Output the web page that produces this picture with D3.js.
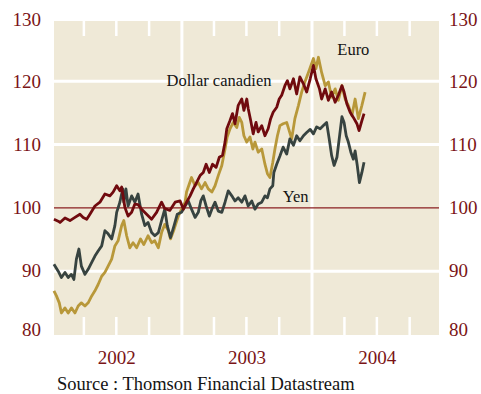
<!DOCTYPE html>
<html>
<head>
<meta charset="utf-8">
<script src="https://cdn.jsdelivr.net/npm/d3@7/dist/d3.min.js"></script>
<style>
  html, body { margin: 0; padding: 0; background: #ffffff; }
  svg { display: block; }
  text { font-family: "Liberation Serif", "Times New Roman", serif; }
</style>
</head>
<body>
<svg id="chart" width="481" height="394"></svg>
<script>
// Exchange rates against the US dollar, index base 100
const cadData = [
  ["2002-01-07",98.2],["2002-01-19",97.9],["2002-01-24",97.7],["2002-02-07",98.4],["2002-02-21",98.0],["2002-03-07",98.5],
  ["2002-03-21",99.0],["2002-03-30",98.5],["2002-04-09",98.2],["2002-04-18",99.0],["2002-05-02",100.3],["2002-05-16",100.9],
  ["2002-05-30",102.2],["2002-06-13",101.9],["2002-06-22",102.5],["2002-07-02",103.5],["2002-07-11",102.7],["2002-07-16",103.3],
  ["2002-07-25",100.1],["2002-08-03",98.7],["2002-08-13",99.3],["2002-08-22",100.6],["2002-08-31",100.5],["2002-09-10",99.8],
  ["2002-09-24",99.0],["2002-10-08",98.2],["2002-10-22",99.3],["2002-11-05",100.9],["2002-11-14",99.9],["2002-11-28",99.6],
  ["2002-12-13",100.9],["2002-12-27",101.1],["2003-01-05",99.8],["2003-01-14",100.9],["2003-01-24",101.9],["2003-02-02",103.0],
  ["2003-02-11",104.0],["2003-02-21",105.1],["2003-03-02",105.6],["2003-03-10",106.9],["2003-03-19",105.6],["2003-03-28",106.9],
  ["2003-04-07",106.4],["2003-04-16",108.0],["2003-04-25",108.3],["2003-05-02",110.4],["2003-05-07",112.5],["2003-05-16",113.8],
  ["2003-05-23",114.9],["2003-05-30",113.3],["2003-06-08",116.2],["2003-06-18",117.2],["2003-06-24",115.4],["2003-07-02",117.2],
  ["2003-07-06",115.7],["2003-07-13",113.8],["2003-07-20",111.7],["2003-07-28",113.5],["2003-08-03",112.0],["2003-08-13",113.0],
  ["2003-08-22",111.4],["2003-08-31",112.5],["2003-09-07",114.1],["2003-09-14",115.1],["2003-09-24",115.9],["2003-10-01",117.2],
  ["2003-10-08",117.8],["2003-10-17",119.3],["2003-10-24",120.1],["2003-10-31",118.8],["2003-11-10",120.4],["2003-11-19",118.0],
  ["2003-11-28",120.7],["2003-12-08",119.6],["2003-12-17",118.3],["2003-12-27",120.4],["2004-01-05",122.5],["2004-01-12",120.4],
  ["2004-01-22",118.8],["2004-01-28",117.2],["2004-02-07",118.8],["2004-02-16",117.0],["2004-02-25",118.3],["2004-03-06",116.7],
  ["2004-03-15",117.8],["2004-03-25",119.3],["2004-03-31",118.3],["2004-04-08",116.4],["2004-04-17",115.1],["2004-04-26",114.3],
  ["2004-05-06",113.3],["2004-05-12",112.2],["2004-05-20",113.8],["2004-05-26",114.9]
];

const euroData = [
  ["2002-01-07",86.9],["2002-01-14",86.1],["2002-01-22",85.0],["2002-01-28",83.4],["2002-02-07",84.2],["2002-02-16",83.4],
  ["2002-02-25",84.2],["2002-03-07",83.4],["2002-03-16",84.5],["2002-03-25",85.0],["2002-04-04",84.5],["2002-04-13",85.0],
  ["2002-04-23",86.1],["2002-05-02",86.9],["2002-05-11",87.9],["2002-05-21",89.2],["2002-05-30",89.8],["2002-06-08",90.8],
  ["2002-06-18",91.9],["2002-06-27",94.0],["2002-07-06",94.8],["2002-07-16",97.2],["2002-07-22",98.0],["2002-07-30",95.6],
  ["2002-08-08",93.7],["2002-08-17",94.5],["2002-08-27",93.7],["2002-09-07",95.1],["2002-09-16",94.2],["2002-09-28",95.6],
  ["2002-10-08",94.5],["2002-10-17",94.8],["2002-10-27",93.7],["2002-11-05",96.1],["2002-11-14",97.4],["2002-11-24",96.4],
  ["2002-11-30",95.1],["2002-12-10",96.6],["2002-12-22",98.7],["2002-12-31",99.8],["2003-01-10",100.9],["2003-01-14",102.5],
  ["2003-01-28",104.8],["2003-02-07",103.5],["2003-02-16",104.0],["2003-02-25",103.0],["2003-03-07",104.0],["2003-03-16",103.0],
  ["2003-03-26",102.5],["2003-04-04",103.5],["2003-04-13",105.1],["2003-04-23",106.7],["2003-05-02",109.3],["2003-05-08",111.2],
  ["2003-05-16",112.5],["2003-05-25",113.5],["2003-06-04",112.7],["2003-06-11",114.3],["2003-06-18",113.5],["2003-06-24",111.4],
  ["2003-07-02",110.4],["2003-07-11",111.2],["2003-07-19",109.3],["2003-07-25",110.4],["2003-08-03",108.8],["2003-08-13",109.3],
  ["2003-08-22",106.9],["2003-08-29",105.4],["2003-09-05",104.8],["2003-09-13",107.2],["2003-09-19",109.3],["2003-09-26",111.4],
  ["2003-10-03",113.0],["2003-10-12",113.3],["2003-10-22",113.5],["2003-11-05",110.9],["2003-11-14",114.1],["2003-11-24",116.2],
  ["2003-12-03",118.3],["2003-12-12",119.9],["2003-12-22",121.4],["2004-01-05",123.6],["2004-01-12",122.0],["2004-01-19",123.8],
  ["2004-01-28",121.4],["2004-02-07",119.3],["2004-02-16",119.9],["2004-02-25",117.5],["2004-03-06",118.8],["2004-03-15",117.0],
  ["2004-03-25",119.3],["2004-04-03",117.2],["2004-04-12",116.2],["2004-04-22",114.6],["2004-05-01",117.2],["2004-05-10",114.1],
  ["2004-05-20",116.2],["2004-05-29",118.3]
];

const yenData = [
  ["2002-01-07",91.1],["2002-01-19",90.0],["2002-01-28",89.0],["2002-02-07",89.8],["2002-02-16",89.0],["2002-02-25",89.5],
  ["2002-03-04",88.7],["2002-03-11",91.9],["2002-03-18",93.5],["2002-03-25",90.8],["2002-04-04",89.5],["2002-04-13",90.3],
  ["2002-04-23",91.4],["2002-05-02",92.4],["2002-05-11",93.2],["2002-05-21",94.0],["2002-05-30",96.4],["2002-06-08",95.9],
  ["2002-06-18",95.1],["2002-06-27",97.2],["2002-07-02",99.3],["2002-07-11",100.9],["2002-07-19",103.0],["2002-07-22",100.9],
  ["2002-07-28",103.0],["2002-08-03",100.3],["2002-08-13",101.9],["2002-08-22",100.9],["2002-08-31",102.2],["2002-09-10",99.0],
  ["2002-09-19",97.2],["2002-09-28",97.7],["2002-10-08",96.1],["2002-10-17",95.6],["2002-10-27",96.1],["2002-11-05",98.0],
  ["2002-11-14",99.8],["2002-11-21",97.2],["2002-11-30",95.3],["2002-12-10",97.2],["2002-12-19",99.0],["2002-12-31",99.3],
  ["2003-01-10",100.3],["2003-01-19",101.1],["2003-01-28",99.8],["2003-02-07",98.5],["2003-02-16",99.3],["2003-02-23",101.1],
  ["2003-03-02",101.9],["2003-03-10",100.3],["2003-03-19",98.7],["2003-03-26",99.8],["2003-04-04",100.9],["2003-04-13",99.5],
  ["2003-04-23",99.3],["2003-05-02",100.9],["2003-05-11",102.7],["2003-05-21",101.9],["2003-05-30",101.1],["2003-06-08",101.6],
  ["2003-06-18",100.9],["2003-06-27",101.9],["2003-07-06",100.3],["2003-07-16",101.1],["2003-07-25",99.8],["2003-08-03",100.6],
  ["2003-08-13",100.9],["2003-08-22",101.9],["2003-08-29",101.6],["2003-09-05",103.0],["2003-09-13",103.5],["2003-09-16",105.6],
  ["2003-09-24",106.9],["2003-10-03",108.2],["2003-10-12",109.6],["2003-10-22",108.5],["2003-10-31",110.9],["2003-11-10",109.9],
  ["2003-11-19",111.4],["2003-11-28",110.6],["2003-12-08",111.4],["2003-12-17",111.9],["2003-12-27",112.4],["2004-01-05",111.7],
  ["2004-01-14",112.8],["2004-01-24",112.5],["2004-02-02",113.0],["2004-02-11",113.5],["2004-02-18",111.0],["2004-02-25",108.3],
  ["2004-03-03",106.7],["2004-03-11",108.0],["2004-03-18",111.2],["2004-03-25",114.4],["2004-03-31",113.5],["2004-04-06",111.4],
  ["2004-04-12",110.4],["2004-04-19",108.8],["2004-04-26",107.7],["2004-05-01",109.0],["2004-05-07",106.7],["2004-05-13",104.0],
  ["2004-05-20",105.6],["2004-05-26",107.2]
];

const yTicks = [80, 90, 100, 110, 120, 130];
const gridValues = [90, 110, 120];
const baseValue = 100;
const yearLabels = ["2002", "2003", "2004"];
// name placement given in chart coordinates (date, index level of the baseline)
const seriesLabels = [
  { name: "Dollar canadien", date: "2002-11-19", value: 119.3 },
  { name: "Euro", date: "2004-03-12", value: 124.15 },
  { name: "Yen", date: "2003-10-11", value: 101.0 }
];
const sourceText = "Source : Thomson Financial Datastream";

const parse = d3.utcParse("%Y-%m-%d");
const svg = d3.select("#chart");

const plot = { left: 54, right: 439, top: 21, bottom: 335 };

const x = d3.scaleUtc()
  .domain([parse("2002-01-01"), parse("2004-01-01")])
  .range([51.8, 312]);
const y = d3.scaleLinear().domain([80, 130]).range([334.5, 18]);

const labelRed = "#7a1416";

// background panel
svg.append("rect")
  .attr("x", plot.left).attr("y", plot.top)
  .attr("width", plot.right - plot.left).attr("height", plot.bottom - plot.top)
  .attr("fill", "#efe9d7");

// white horizontal grid
svg.append("g").selectAll("line").data(gridValues).join("line")
  .attr("x1", plot.left).attr("x2", plot.right)
  .attr("y1", d => y(d)).attr("y2", d => y(d))
  .attr("stroke", "#ffffff").attr("stroke-width", 3);

// year boundaries
const yearStarts = d3.utcYear.range(parse("2003-01-01"), parse("2005-01-01"))
  .filter(d => x(d) > plot.left && x(d) < plot.right);
svg.append("g").selectAll("line").data(yearStarts).join("line")
  .attr("x1", d => x(d)).attr("x2", d => x(d))
  .attr("y1", plot.top).attr("y2", plot.bottom)
  .attr("stroke", "#ffffff").attr("stroke-width", 3);

// quarter ticks along top and bottom edges
const quarters = d3.utcMonth.every(3).range(parse("2002-01-01"), parse("2005-01-01"))
  .filter(d => d.getUTCMonth() !== 0 && x(d) < plot.right);
const tickG = svg.append("g").attr("stroke", "#ffffff").attr("stroke-width", 2.5);
tickG.selectAll(".qt").data(quarters).join("line")
  .attr("x1", d => x(d)).attr("x2", d => x(d))
  .attr("y1", plot.top).attr("y2", plot.top + 15);
tickG.selectAll(".qb").data(quarters).join("line")
  .attr("x1", d => x(d)).attr("x2", d => x(d))
  .attr("y1", plot.bottom - 18).attr("y2", plot.bottom);

// reference line at 100
svg.append("line")
  .attr("x1", plot.left).attr("x2", plot.right)
  .attr("y1", y(baseValue)).attr("y2", y(baseValue))
  .attr("stroke", "#8a1e20").attr("stroke-width", 1.2);

// series
const line = d3.line()
  .x(d => x(parse(d[0])))
  .y(d => y(d[1]));

const series = [
  { data: euroData, color: "#b8983a" },
  { data: yenData, color: "#374340" },
  { data: cadData, color: "#700a0e" }
];
svg.append("g").selectAll("path").data(series).join("path")
  .attr("d", d => line(d.data))
  .attr("fill", "none")
  .attr("stroke", d => d.color)
  .attr("stroke-width", 2.8)
  .attr("stroke-linejoin", "round");

// y axis labels, both sides
const labelY = v => Math.min(Math.max(y(v), 20), 330);
const axisFont = 19;
svg.append("g").selectAll("text").data(yTicks).join("text")
  .attr("x", 41).attr("y", d => labelY(d)).attr("dy", "0.33em")
  .attr("text-anchor", "end")
  .attr("font-size", axisFont).attr("fill", labelRed)
  .text(d => d);
svg.append("g").selectAll("text").data(yTicks).join("text")
  .attr("x", 449).attr("y", d => labelY(d)).attr("dy", "0.33em")
  .attr("text-anchor", "start")
  .attr("font-size", axisFont).attr("fill", labelRed)
  .text(d => d);

// year labels centred in each year
svg.append("g").selectAll("text").data(yearLabels).join("text")
  .attr("x", d => (x(parse(d + "-01-01")) + x(parse((+d + 1) + "-01-01"))) / 2)
  .attr("y", 363.5)
  .attr("text-anchor", "middle")
  .attr("font-size", axisFont).attr("fill", labelRed)
  .text(d => d);

// series names
svg.append("g").selectAll("text").data(seriesLabels).join("text")
  .attr("x", d => x(parse(d.date)))
  .attr("y", d => y(d.value))
  .attr("font-size", 16.5).attr("fill", "#141414")
  .text(d => d.name);

// source note
svg.append("text")
  .attr("x", 57).attr("y", 389.5)
  .attr("font-size", 18.5).attr("fill", "#141414")
  .text(sourceText);
</script>
</body>
</html>
